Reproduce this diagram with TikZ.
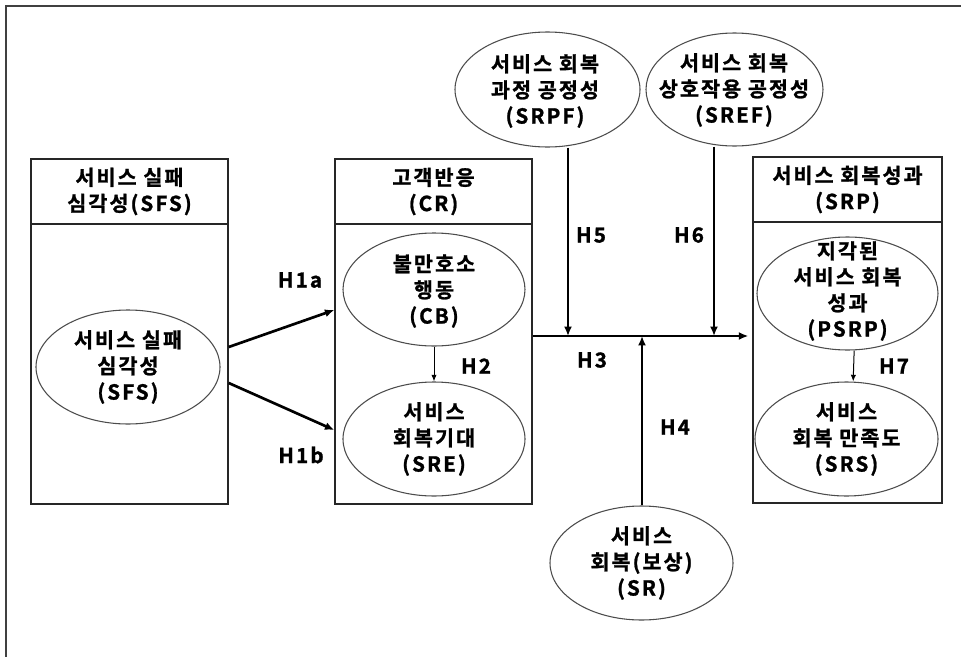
\documentclass[tikz,border=0pt]{standalone}
\usepackage{fontspec}
\setmainfont{Noto Sans CJK KR Bold}[LetterSpace=10,FakeBold=1.2]
\usetikzlibrary{arrows.meta,shapes.geometric,fit}
\begin{document}
\begin{tikzpicture}[x=0.75pt,y=-0.75pt,
  box/.style={draw=black!85, line width=1.1pt, inner sep=0pt},
  ell/.style={draw=black!70, line width=0.8pt, ellipse, inner sep=0pt},
  txt/.style={align=center, font=\fontsize{15.5}{19.5}\selectfont, inner sep=0pt},
  lbl/.style={font=\fontsize{15.5}{18}\selectfont, inner sep=0pt},
  thk/.style={line width=2pt, -{Latex[length=7pt,width=6pt]}},
  thn/.style={line width=0.75pt, -{Latex[length=5pt,width=4pt]}}]
\useasboundingbox (0,0) rectangle (961,657);
\draw[black!75, line width=1.1pt] (6,670) -- (6,6) -- (975,6);

% boxes
\node[box, fit={(31,159) (228,504)}] (sfsbox) {};
\node[box, fit={(335,159) (532,504)}] (crbox) {};
\node[box, fit={(753,157) (942,503)}] (srpbox) {};
\draw[black!85, line width=1.1pt] (sfsbox.west |- 0,224) -- (sfsbox.east |- 0,224);
\draw[black!85, line width=1.1pt] (crbox.west |- 0,224) -- (crbox.east |- 0,224);
\draw[black!85, line width=1.1pt] (srpbox.west |- 0,222) -- (srpbox.east |- 0,222);
\node[txt] (sfshead) at (129.5,191.5) {서비스 실패\\심각성(SFS)};
\node[txt] (crhead) at (433.5,191.5) {고객반응\\(CR)};
\node[txt] (srphead) at (847.5,189.5) {서비스 회복성과\\(SRP)};

% ellipses
\node[ell, minimum width=184*0.75pt, minimum height=114*0.75pt] (sfs) at (128,367) {};
\node[ell, minimum width=182*0.75pt, minimum height=113*0.75pt] (cb) at (434,289.5) {};
\node[ell, minimum width=182*0.75pt, minimum height=114*0.75pt] (sre) at (434,439) {};
\node[ell, minimum width=185*0.75pt, minimum height=115*0.75pt] (srpf) at (547.5,89.5) {};
\node[ell, minimum width=177*0.75pt, minimum height=113*0.75pt] (sref) at (734.5,89.5) {};
\node[ell, minimum width=181*0.75pt, minimum height=113*0.75pt] (psrp) at (847.5,293.5) {};
\node[ell, minimum width=183*0.75pt, minimum height=114*0.75pt] (srs) at (846.5,439) {};
\node[ell, minimum width=183*0.75pt, minimum height=114*0.75pt] (sr) at (641.5,563) {};

\node[txt] (sfst) at (sfs) {서비스 실패\\심각성\\(SFS)};
\node[txt] (cbt) at (434,291) {불만호소\\행동\\(CB)};
\node[txt] (sret) at (sre) {서비스\\회복기대\\(SRE)};
\node[txt] (srpft) at (545,91) {서비스 회복\\과정 공정성\\(SRPF)};
\node[txt] (sreft) at (734,90) {서비스 회복\\상호작용 공정성\\(SREF)};
\node[txt] (psrpt) at (847.5,291) {지각된\\서비스 회복\\성과\\(PSRP)};
\node[txt] (srst) at (srs) {서비스\\회복 만족도\\(SRS)};
\node[txt] (srt) at (sr) {서비스\\회복(보상)\\(SR)};

% connectors
\coordinate (j5) at (568,336);
\coordinate (j6) at (714,336);
\coordinate (j4) at (642,336);
\draw[thk] (sfsbox.east |- 0,347) -- (crbox.west |- 0,310);
\draw[thk] (sfsbox.east |- 0,383) -- (crbox.west |- 0,430);
\draw[thn] (cb) -- (sre);
\draw[thk, shorten >=3pt] (crbox.east |- j5) -- (srpbox.west |- j5);
\draw[thk] (j5 |- srpf.south) -- (j5);
\draw[thk] (j6 |- sref.south) -- (j6);
\draw[thk] (sr.north -| j4) -- (j4);
\draw[thn] ([xshift=5pt]psrp.south) -- ([xshift=5pt]srs.north);

% labels
\node[lbl] (h1a) at (300,280) {H1a};
\node[lbl] (h1b) at (301,455) {H1b};
\node[lbl] (h2) at (476,366) {H2};
\node[lbl] (h3) at (592,360) {H3};
\node[lbl] (h4) at (675,427) {H4};
\node[lbl] (h5) at (591,235) {H5};
\node[lbl] (h6) at (689,235) {H6};
\node[lbl] (h7) at (894,366) {H7};
\end{tikzpicture}
\end{document}
